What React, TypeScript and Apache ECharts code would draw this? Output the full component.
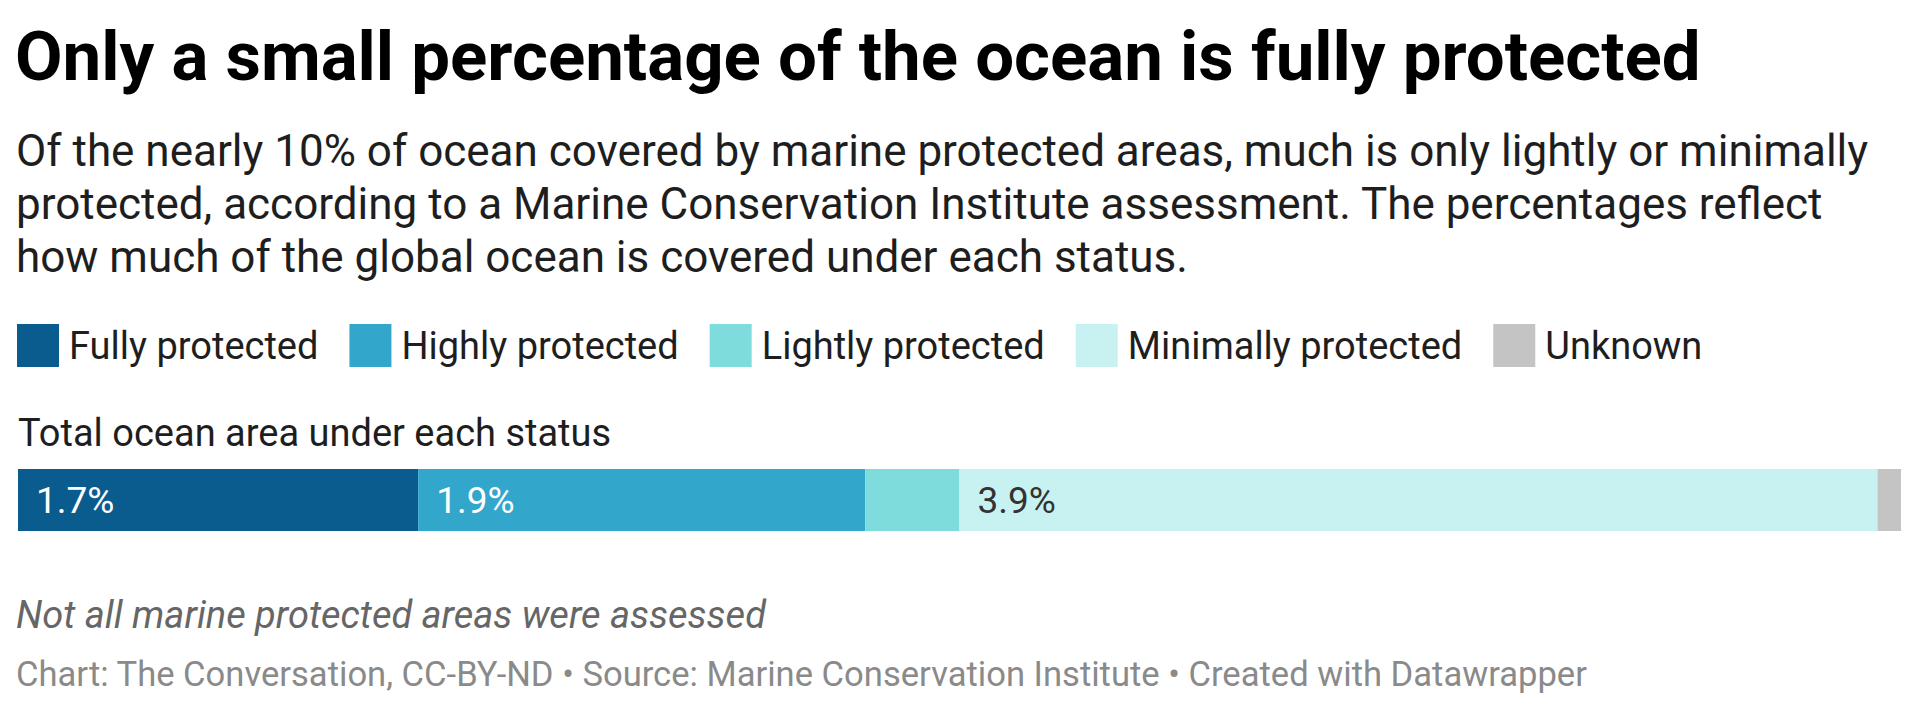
import React, { useEffect, useRef } from "react";
import * as echarts from "echarts";

// Share of the global ocean under each protection status (percent)
const statusNames = [
  "Fully protected",
  "Highly protected",
  "Lightly protected",
  "Minimally protected",
  "Unknown",
];
const shares = [1.7, 1.9, 0.4, 3.9, 0.1];
const statusColors = ["#0a5c8f", "#33a6cc", "#7fdcdc", "#c8f2f2", "#c4c4c4"];
const showLabel = [true, true, false, true, false];
const labelColors = ["#ffffff", "#ffffff", "#333333", "#333333", "#333333"];
const categories = ["Total ocean area under each status"];

const titleText = "Only a small percentage of the ocean is fully protected";
const subtitleLines = [
  "Of the nearly 10% of ocean covered by marine protected areas, much is only lightly or minimally",
  "protected, according to a Marine Conservation Institute assessment. The percentages reflect",
  "how much of the global ocean is covered under each status.",
];
const noteText = "Not all marine protected areas were assessed";
const footerText =
  "Chart: The Conversation, CC-BY-ND • Source: Marine Conservation Institute • Created with Datawrapper";

const FONT = "Roboto, 'Noto Sans', sans-serif";

export default function App() {
  const ref = useRef<HTMLDivElement>(null);

  useEffect(() => {
    if (!ref.current) return;
    const chart = echarts.init(ref.current, undefined, { renderer: "svg" });
    const total = shares.reduce((a, b) => a + b, 0);

    const texts: any[] = [
      {
        type: "text",
        left: 15,
        top: 22,
        style: { text: titleText, font: `bold 69px ${FONT}`, fill: "#000000" },
      },
      ...subtitleLines.map((line, i) => ({
        type: "text",
        left: 16,
        top: 129 + i * 53,
        style: { text: line, font: `44px ${FONT}`, fill: "#1e1e1e" },
      })),
      {
        type: "text",
        left: 18,
        top: 414,
        style: { text: categories[0], font: `38px ${FONT}`, fill: "#1e1e1e" },
      },
      {
        type: "text",
        left: 16,
        top: 596,
        style: { text: noteText, font: `italic 38px ${FONT}`, fill: "#666666" },
      },
      {
        type: "text",
        left: 16,
        top: 656,
        style: { text: footerText, font: `34.6px ${FONT}`, fill: "#8a8a8a" },
      },
    ];

    chart.setOption({
      animation: false,
      backgroundColor: "#ffffff",
      graphic: texts,
      legend: {
        left: 17,
        top: 324,
        padding: 0,
        icon: "rect",
        itemWidth: 42,
        itemHeight: 43,
        itemGap: 31,
        selectedMode: false,
        data: statusNames,
        textStyle: {
          fontFamily: FONT,
          fontSize: 38,
          color: "#1e1e1e",
          padding: [0, 0, 0, 5],
        },
      },
      grid: { left: 18, top: 469, width: 1883, height: 62 },
      xAxis: { type: "value", min: 0, max: total, show: false },
      yAxis: { type: "category", data: categories, show: false },
      series: statusNames.map((name, i) => ({
        name,
        type: "bar",
        stack: "total",
        barWidth: "100%",
        data: [shares[i]],
        itemStyle: { color: statusColors[i] },
        label: {
          show: showLabel[i],
          position: "insideLeft",
          distance: 18,
          formatter: (p: any) => `${p.value}%`,
          color: labelColors[i],
          fontFamily: FONT,
          fontSize: 37,
        },
      })),
    });

    return () => chart.dispose();
  }, []);

  return (
    <div
      ref={ref}
      style={{ position: "absolute", left: 0, top: 0, width: 1920, height: 711 }}
    />
  );
}
